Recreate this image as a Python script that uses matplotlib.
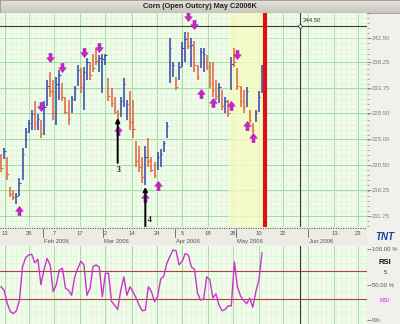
import matplotlib
matplotlib.use("Agg")
import matplotlib.pyplot as plt
import numpy as np
from matplotlib.path import Path
from matplotlib.ticker import MultipleLocator

plt.rcParams['font.family'] = ['Liberation Sans', 'DejaVu Sans']

title = "Corn (Open Outcry) May C2006K"

highs = [222.5, 223.5, 222.0, 216.75, 216.25, 215.75, 218.25, 223.5, 227.0, 228.25,
         230.0, 231.5, 229.25, 228.25, 231.5, 235.25, 236.5, 235.25, 235.75, 237.0,
         234.75, 232.25, 231.75, 232.5, 234.25, 237.75, 237.25, 237.5, 239.0, 238.25,
         239.75, 240.75, 239.5, 239.75, 239.75, 235.5, 233.75, 232.25, 230.0, 232.25,
         235.5, 231.75, 233.25, 231.75, 224.75, 223.75, 222.0, 223.75, 225.25, 222.0,
         221.0, 222.75, 223.25, 224.75, 228.0, 242.5, 238.25, 235.75, 238.25, 241.75,
         243.5, 243.5, 242.5, 242.0, 237.75, 240.75, 240.75, 239.5, 238.25, 238.25,
         235.25, 234.75, 233.5, 232.25, 231.75, 239.25, 240.75, 237.25, 234.25, 233.5,
         234.0, 230.0, 227.75, 230.0, 233.25, 237.75]
lows = [219.25, 221.5, 218.0, 215.0, 214.5, 213.75, 215.25, 218.0, 223.5, 226.0,
        226.5, 226.5, 226.5, 225.25, 225.75, 230.75, 232.25, 228.25, 227.5, 231.75,
        231.5, 229.25, 227.5, 229.5, 231.5, 234.25, 233.0, 230.0, 235.25, 235.25,
        236.5, 237.75, 236.5, 233.0, 237.75, 231.5, 230.5, 229.25, 227.75, 228.75,
        230.5, 228.25, 226.5, 225.25, 220.25, 219.25, 217.5, 217.0, 220.25, 219.25,
        218.25, 219.75, 220.25, 222.75, 225.25, 234.75, 235.75, 233.5, 235.25, 237.5,
        238.25, 240.5, 237.5, 236.5, 235.25, 237.25, 236.5, 237.0, 233.75, 232.25,
        231.75, 231.25, 230.0, 229.5, 228.75, 233.5, 237.5, 233.5, 230.5, 229.5,
        230.5, 227.75, 226.0, 228.0, 229.75, 233.0]
closes = [220.0, 223.0, 219.0, 215.5, 215.0, 215.25, 217.5, 222.5, 226.25, 227.75,
          229.25, 227.75, 228.5, 226.0, 230.5, 234.25, 233.25, 229.5, 234.5, 236.0,
          232.25, 229.75, 228.5, 232.0, 233.75, 237.0, 234.0, 236.5, 238.25, 236.0,
          237.25, 238.5, 239.0, 238.75, 239.5, 232.5, 231.25, 229.75, 228.25, 231.5,
          234.5, 231.0, 228.0, 226.75, 221.25, 220.25, 218.5, 222.0, 221.25, 219.75,
          218.75, 222.0, 222.5, 224.25, 227.25, 240.75, 237.75, 234.0, 237.5, 240.75,
          242.25, 241.0, 241.25, 237.75, 235.75, 240.0, 239.75, 237.5, 234.75, 233.5,
          232.5, 234.0, 230.75, 231.5, 229.5, 238.0, 238.25, 234.25, 231.5, 230.5,
          233.25, 228.25, 226.5, 229.5, 232.25, 236.75]
direction = ("duddduuuuu" "ududuudduu" "ddduuuduud" "dduuuddddu" "uudddddudd"
             "duuuuuuduu" "ududduuddd" "dudududddd" "udduuu")
rsi = [47, 42, 24, 12, 9, 13, 28, 75, 88, 92,
       93, 81, 86, 50, 71, 87, 78, 40, 50, 71,
       73, 45, 42, 35, 61, 73, 83, 78, 35, 45,
       76, 78, 75, 33, 66, 66, 26, 21, 15, 42,
       61, 35, 47, 40, 31, 21, 13, 14, 47, 40,
       26, 33, 58, 62, 80, 90, 99, 98, 78, 83,
       94, 92, 75, 72, 38, 28, 30, 61, 57, 31,
       37, 21, 13, 15, 20, 20, 82, 47, 34, 28,
       23, 31, 18, 40, 57, 95]

price_ticks = [242.50, 238.25, 233.75, 229.50, 225.00, 220.50, 216.25, 211.75]
price_tick_labels = ['242.50', '238.25', '233.75', '229.50', '225.00', '220.50', '216.25', '211.75']
day_tick_pos = [1.3, 9.1, 17.3, 25.7, 33.9, 42.7, 50.8, 59.0, 67.4, 75.6, 84.0, 91.9, 108.6, 116.3]
day_tick_labels = ['13', '26', '7', '17', '2', '14', '24', '5', '18', '28', '10', '22', '13', '23']
month_pos = [13.7, 33.2, 56.7, 76.5, 100.0]
month_labels = ['Feb 2006', 'Mar 2006', 'Apr 2006', 'May 2006', 'Jun 2006']

down_idx = [13, 16, 20, 27, 32, 61, 63, 77]
down_price = [230.5, 239.0, 237.25, 239.9, 240.7, 246.05, 244.7, 239.5]
up_idx = [6, 38, 47, 51, 65, 69, 75, 80, 82]
up_price = [212.8, 226.6, 215.0, 217.1, 233.0, 231.4, 230.9, 227.45, 225.4]

wave_idx = [38, 47]
wave_labels = ['3', '4']
wave_tail = [220.9, 209.9]
wave_head = [228.65, 216.75]
wave_label_idx = [38.3, 48.6]
wave_label_price = [219.6, 211.1]

cross_price = 244.50
cross_idx = 97.4
today_idx = 85.9
highlight = (74.3, 85.4)
rsi_levels = [70, 30]

# ---------------------------------------------------------------
W, H = 400, 324
fig = plt.figure(figsize=(W / 100, H / 100), dpi=100)
fig.patch.set_facecolor('#f0f0ec')

def fa(x0, y0, x1, y1):
    return [x0 / W, 1 - y1 / H, (x1 - x0) / W, (y1 - y0) / H]

XL = (-0.33, 119.2)
BG = '#f0fbea'
MAJ = '#96d896'
MIN = '#d9f2d2'
grid_pos = sorted(day_tick_pos + [100.0])

# title bar
axt = fig.add_axes(fa(0, 0, 400, 13))
grad = np.linspace(0, 1, 50).reshape(-1, 1)
axt.imshow(grad, aspect='auto', cmap=matplotlib.colors.LinearSegmentedColormap.from_list(
    'g', ['#e6e4de', '#c8c5bd']), extent=(0, 1, 0, 1))
axt.set_xlim(0, 1); axt.set_ylim(0, 1)
axt.set_xticks([]); axt.set_yticks([])
for s in axt.spines.values():
    s.set_color('#9a988f'); s.set_linewidth(0.6)
axt.text(0.5, 0.48, title, ha='center', va='center', fontsize=5.3,
         fontweight='bold', color='#222222')

# main price panel
ax = fig.add_axes(fa(0, 13, 367, 227))
ax.set_facecolor(BG)
ax.set_xlim(*XL)
ax.set_ylim(209.84, 246.76)
ax.set_axisbelow(True)
ax.set_xticks(grid_pos)
ax.set_xticklabels([])
ax.xaxis.set_minor_locator(MultipleLocator(1.63))
ax.yaxis.tick_right()
ax.set_yticks(price_ticks)
ax.set_yticklabels(price_tick_labels)
ax.yaxis.set_minor_locator(MultipleLocator(0.875))
ax.tick_params(axis='y', which='major', labelsize=4.3, labelcolor='#6a8c6a',
               color='#556655', length=3, width=0.5, pad=0.5)
ax.tick_params(axis='y', which='minor', color='#556655', length=1.5, width=0.4)
ax.tick_params(axis='x', which='both', length=0)
ax.grid(which='major', color=MAJ, lw=0.6)
ax.grid(which='minor', color=MIN, lw=0.4)
for s in ax.spines.values():
    s.set_visible(False)

ax.axvspan(*highlight, color='#f8fbc0', alpha=0.75, lw=0, zorder=0.8)

x = np.arange(len(highs))
col = ['#3344aa' if d == 'u' else '#e0623e' for d in direction]
ax.vlines(x, lows, highs, colors=col, lw=1.1, zorder=3)
ax.hlines(closes, x, x + 0.5, colors=col, lw=0.8, zorder=3)

ax.axvline(today_idx, color='#dd1111', lw=3, zorder=4)
ax.axhline(cross_price, color='#3a3a3a', lw=0.8, zorder=2)
ax.axvline(cross_idx, color='#3a3a3a', lw=0.8, zorder=2)
ax.plot([cross_idx], [cross_price], marker='o', ms=2.5, mfc='white', mec='#222', mew=0.5, zorder=5)
ax.text(cross_idx + 0.8, cross_price + 0.5, '244.50', fontsize=4.3, color='#333333',
        ha='left', va='bottom')

dverts = [(-0.3, 1), (0.3, 1), (0.3, 0.15), (0.75, 0.15), (0, -0.8),
          (-0.75, 0.15), (-0.3, 0.15), (-0.3, 1)]
dcodes = [Path.MOVETO] + [Path.LINETO] * 6 + [Path.CLOSEPOLY]
down_marker = Path(dverts, dcodes)
up_marker = Path([(vx, -vy) for vx, vy in dverts], dcodes)
ax.scatter(down_idx, down_price, marker=down_marker, s=55, c='#cc22cc',
           edgecolors='#992299', linewidths=0.3, zorder=6)
ax.scatter(up_idx, up_price, marker=up_marker, s=55, c='#cc22cc',
           edgecolors='#992299', linewidths=0.3, zorder=6)

for wi, wt, wh in zip(wave_idx, wave_tail, wave_head):
    ax.annotate('', xy=(wi, wh), xytext=(wi, wt),
                arrowprops=dict(arrowstyle='-|>', color='black', lw=1.4,
                                mutation_scale=6, shrinkA=0, shrinkB=0), zorder=7)
for lx, ly, wl in zip(wave_label_idx, wave_label_price, wave_labels):
    ax.text(lx, ly, wl, fontsize=5.5, color='#111111', ha='center',
            va='center', family=['Liberation Serif', 'DejaVu Serif'], fontweight='bold')

# date strip
axd = fig.add_axes(fa(0, 227, 367, 245))
axd.set_facecolor('#ecebe4')
axd.set_xlim(*XL); axd.set_ylim(0, 1)
axd.set_xticks([]); axd.set_yticks([])
for s in axd.spines.values():
    s.set_visible(False)
axd.axhline(0.93, ls=(0, (1, 1.5)), color='#444444', lw=0.7)
for p, l in zip(day_tick_pos, day_tick_labels):
    axd.text(p, 0.62, l, fontsize=4.2, color='#555555', ha='center', va='center')
for p, l in zip(month_pos, month_labels):
    axd.plot([p, p], [0.45, 0.9], color='#444444', lw=0.5)
    axd.text(p + 0.4, 0.22, l, fontsize=4.2, color='#555555', ha='left', va='center')

fig.text(385 / W, 1 - 237 / H, 'TNT', fontsize=7, fontweight='bold', style='italic',
         color='#1f3a9a', ha='center', va='center')

# RSI panel
axr = fig.add_axes(fa(0, 246, 367, 324))
axr.set_facecolor(BG)
axr.set_xlim(*XL)
axr.set_ylim(-5.7, 104.7)
axr.set_axisbelow(True)
axr.set_xticks(grid_pos)
axr.set_xticklabels([])
axr.xaxis.set_minor_locator(MultipleLocator(1.63))
axr.yaxis.tick_right()
axr.set_yticks([0, 50, 100])
axr.set_yticklabels(['0%', '50.00 %', '100.00 %'])
axr.yaxis.set_minor_locator(MultipleLocator(10))
axr.tick_params(axis='y', which='major', labelsize=4.3, labelcolor='#555555',
                color='#555555', length=3, width=0.5, pad=0.5)
axr.tick_params(axis='y', which='minor', length=0)
axr.tick_params(axis='x', which='both', length=0)
axr.grid(which='major', axis='x', color=MAJ, lw=0.6)
axr.grid(which='minor', color=MIN, lw=0.4)
for s in axr.spines.values():
    s.set_visible(False)
for lv in rsi_levels:
    axr.axhline(lv, color='#b24040', lw=0.8, zorder=2)
axr.axvline(cross_idx, color='#3a3a3a', lw=0.8, zorder=2)
axr.plot(x, rsi, color='#cc33cc', lw=1.0, zorder=3)

fig.text(385 / W, 1 - 262 / H, 'RSI', fontsize=5.5, fontweight='bold', color='#111111',
         ha='center', va='center')
fig.text(385 / W, 1 - 272 / H, '5', fontsize=4.3, color='#333333', ha='center', va='center')
fig.text(385 / W, 1 - 301 / H, 'RSI', fontsize=4.3, color='#cc33cc', ha='center', va='center',
         bbox=dict(boxstyle='square,pad=0.25', fc='#f6e6f6', ec='none'))

fig.savefig('out.png', dpi=100, facecolor=fig.get_facecolor())
